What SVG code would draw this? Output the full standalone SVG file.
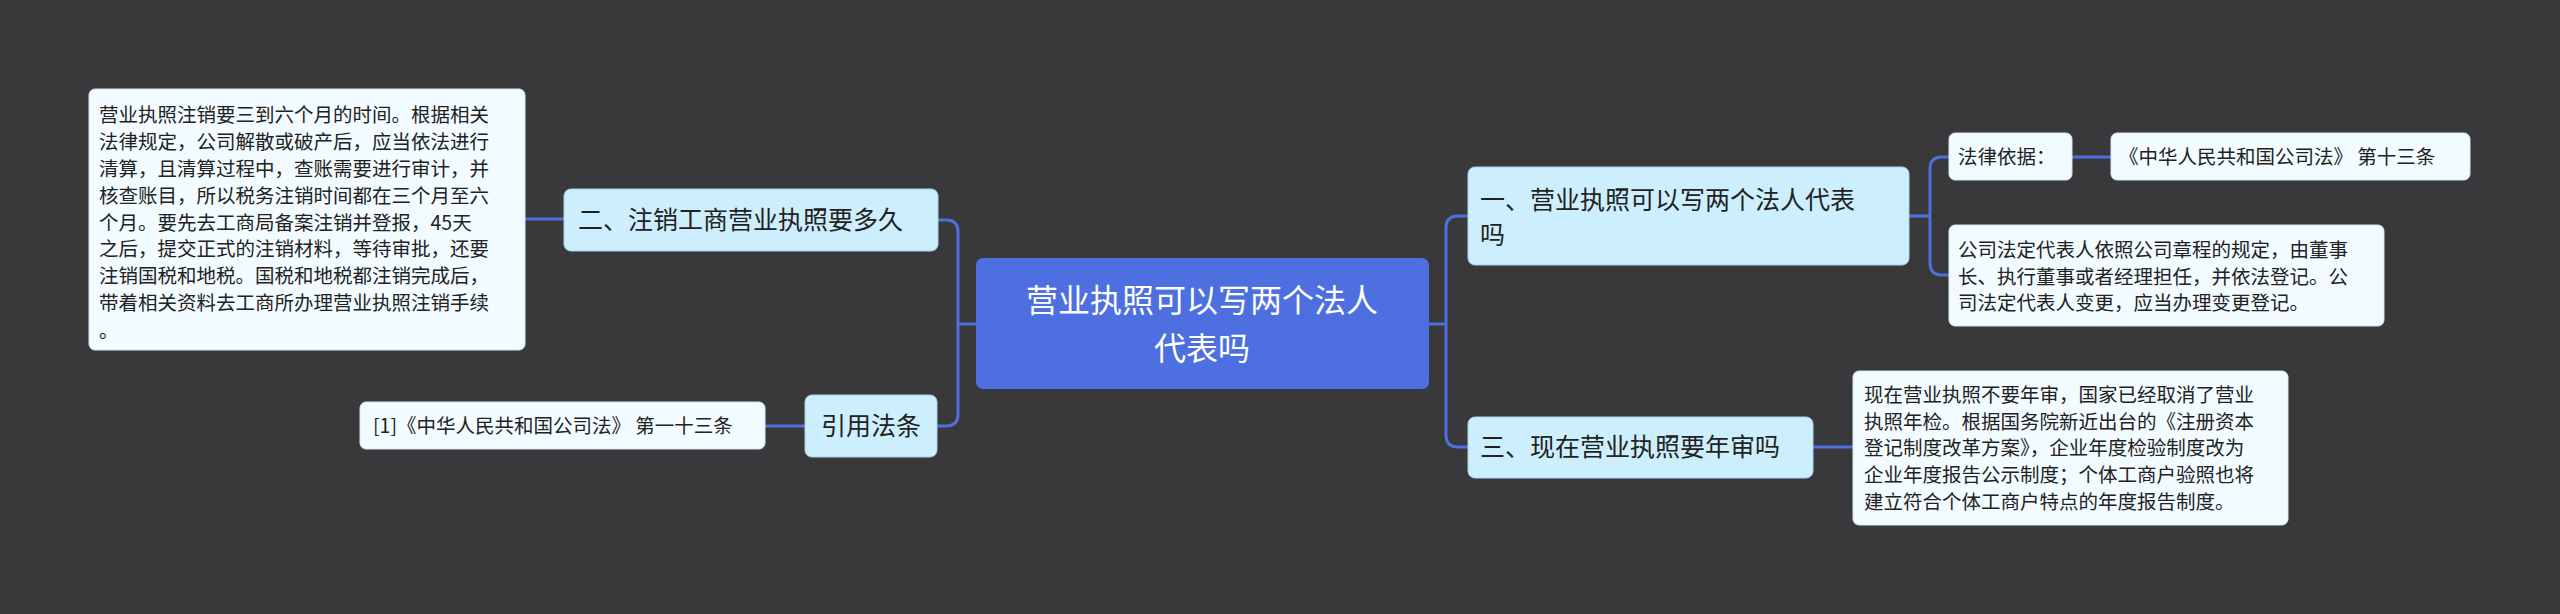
<svg xmlns="http://www.w3.org/2000/svg" width="2560" height="614" viewBox="0 0 2560 614">
<style>
.sub{fill:#cdeffd;stroke:#a9d4ea;stroke-width:1}
.leaf{fill:#f2fbff;stroke:#d6e6ee;stroke-width:1}
.t{font-family:"Noto Sans CJK SC","Noto Sans",sans-serif;fill:#222}
.s{font-size:25px}
.l{font-size:19.5px}
#conn path{fill:none;stroke:#4e6fe0;stroke-width:3}
</style>
<rect width="2560" height="614" fill="#39393b"/>
<g id="conn">
<path d="M976 324H958"/>
<path d="M958 324V232Q958 220 946 220H937"/>
<path d="M958 324V414Q958 426 946 426H937"/>
<path d="M564 219H525"/>
<path d="M805 426H765"/>
<path d="M1429 324H1446"/>
<path d="M1446 324V228Q1446 216 1458 216H1468"/>
<path d="M1446 324V435Q1446 447 1458 447H1468"/>
<path d="M1909 216H1930"/>
<path d="M1930 216V169Q1930 157 1942 157H1949"/>
<path d="M1930 216V263Q1930 275 1942 275H1949"/>
<path d="M2072 157H2111"/>
<path d="M1813 447H1853"/>
</g>
<g id="center">
<rect x="976" y="258" width="453" height="131" rx="7" fill="#4e6fe0"/>
<text class="t" font-size="32" fill="#fff" style="fill:#fff" text-anchor="middle"><tspan x="1202" y="312">营业执照可以写两个法人</tspan><tspan x="1202" y="360">代表吗</tspan></text>
</g>
<g id="n2">
<rect class="sub" x="564" y="189" width="374" height="62" rx="7"/>
<text class="t s" x="578" y="229">二、注销工商营业执照要多久</text>
</g>
<g id="n2leaf">
<rect class="leaf" x="89" y="89" width="436" height="261" rx="6"/>
<text class="t l"><tspan x="99" y="122">营业执照注销要三到六个月的时间。根据相关</tspan><tspan x="99" y="149">法律规定，公司解散或破产后，应当依法进行</tspan><tspan x="99" y="176">清算，且清算过程中，查账需要进行审计，并</tspan><tspan x="99" y="203">核查账目，所以税务注销时间都在三个月至六</tspan><tspan x="99" y="230">个月。要先去工商局备案注销并登报，45天</tspan><tspan x="99" y="256">之后，提交正式的注销材料，等待审批，还要</tspan><tspan x="99" y="283">注销国税和地税。国税和地税都注销完成后，</tspan><tspan x="99" y="310">带着相关资料去工商所办理营业执照注销手续</tspan><tspan x="99" y="338">。</tspan></text>
</g>
<g id="cite">
<rect class="sub" x="805" y="395" width="132" height="62" rx="7"/>
<text class="t s" x="871" y="435" text-anchor="middle">引用法条</text>
</g>
<g id="citeleaf">
<rect class="leaf" x="360" y="402" width="405" height="47" rx="6"/>
<text class="t l" x="373" y="433">[1]《中华人民共和国公司法》 第一十三条</text>
</g>
<g id="n1">
<rect class="sub" x="1468" y="167" width="441" height="98" rx="7"/>
<text class="t s"><tspan x="1480" y="209">一、营业执照可以写两个法人代表</tspan><tspan x="1480" y="244">吗</tspan></text>
</g>
<g id="basis">
<rect class="leaf" x="1949" y="133" width="123" height="47" rx="6"/>
<text class="t l" x="1958" y="164">法律依据：</text>
</g>
<g id="law">
<rect class="leaf" x="2111" y="133" width="359" height="47" rx="6"/>
<text class="t l" x="2119" y="164">《中华人民共和国公司法》 第十三条</text>
</g>
<g id="def">
<rect class="leaf" x="1949" y="225" width="435" height="101" rx="6"/>
<text class="t l"><tspan x="1958" y="257">公司法定代表人依照公司章程的规定，由董事</tspan><tspan x="1958" y="284">长、执行董事或者经理担任，并依法登记。公</tspan><tspan x="1958" y="310">司法定代表人变更，应当办理变更登记。</tspan></text>
</g>
<g id="n3">
<rect class="sub" x="1468" y="417" width="345" height="61" rx="7"/>
<text class="t s" x="1480" y="456">三、现在营业执照要年审吗</text>
</g>
<g id="n3leaf">
<rect class="leaf" x="1853" y="371" width="435" height="154" rx="6"/>
<text class="t l"><tspan x="1864" y="402">现在营业执照不要年审，国家已经取消了营业</tspan><tspan x="1864" y="429">执照年检。根据国务院新近出台的《注册资本</tspan><tspan x="1864" y="455">登记制度改革方案》，企业年度检验制度改为</tspan><tspan x="1864" y="482">企业年度报告公示制度；个体工商户验照也将</tspan><tspan x="1864" y="509">建立符合个体工商户特点的年度报告制度。</tspan></text>
</g>
</svg>
